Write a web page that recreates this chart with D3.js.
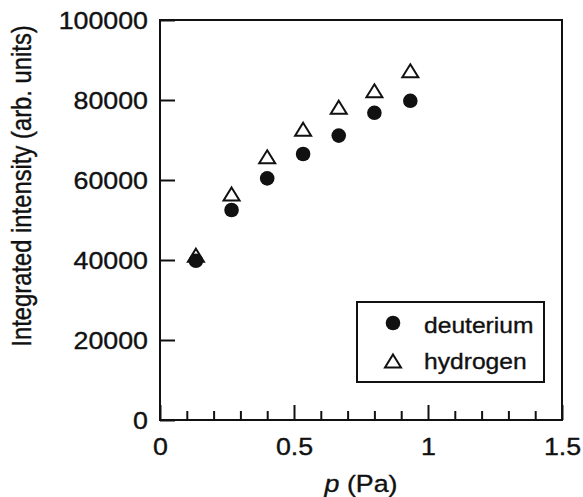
<!DOCTYPE html>
<html><head><meta charset="utf-8">
<script src="https://cdn.jsdelivr.net/npm/d3@7"></script>
<style>body{margin:0;background:#fff}svg{display:block}text{font-family:"Liberation Sans",Arial,sans-serif;fill:#111;stroke:#111;stroke-width:0.35px}</style>
</head><body><svg id="c" width="583" height="497"></svg>
<script>
const pressure = [0.134, 0.267, 0.4, 0.534, 0.667, 0.8, 0.934];
const deuterium = [39800, 52500, 60400, 66500, 71100, 76800, 79800];
const hydrogen = [41200, 56500, 65800, 72700, 78200, 82300, 87300];
const xTicks = [0, 0.5, 1, 1.5];
const xTickLabels = ["0", "0.5", "1", "1.5"];
const xMinorTicks = [0.1,0.2,0.3,0.4,0.6,0.7,0.8,0.9,1.1,1.2,1.3,1.4];
const yTicks = [0, 20000, 40000, 60000, 80000, 100000];
const yTickLabels = ["0","20000","40000","60000","80000","100000"];
const seriesNames = ["deuterium", "hydrogen"];

const SX = 1.14;
const FS = 23.5;
const svg = d3.select("#c");
const L = 160, R = 562, T = 20, B = 420;
const x = d3.scaleLinear().domain([0, 1.5]).range([L, R]);
const y = d3.scaleLinear().domain([0, 100000]).range([B, T]);

// x axis major ticks (inward)
const gx = svg.append("g").attr("transform", `translate(0,${B})`)
  .call(d3.axisBottom(x).tickValues(xTicks).tickSizeInner(-15).tickSizeOuter(0).tickFormat((d,i)=>xTickLabels[i]));
gx.select(".domain").remove();
gx.selectAll("line").attr("stroke","#111").attr("stroke-width",2);
gx.selectAll("text").attr("y", 35).attr("dy", 0).attr("font-size", FS).attr("fill","#111")
  .attr("transform", `scale(${SX},1)`);
// minor ticks
const gxm = svg.append("g").attr("transform", `translate(0,${B})`)
  .call(d3.axisBottom(x).tickValues(xMinorTicks).tickSizeInner(-9).tickSizeOuter(0).tickFormat(""));
gxm.select(".domain").remove();
gxm.selectAll("line").attr("stroke","#111").attr("stroke-width",2);

// y axis
const gy = svg.append("g").attr("transform", `translate(${L},0)`)
  .call(d3.axisLeft(y).tickValues(yTicks).tickSizeInner(-15).tickSizeOuter(0).tickFormat((d,i)=>yTickLabels[i]));
gy.select(".domain").remove();
gy.selectAll("line").attr("stroke","#111").attr("stroke-width",2);
gy.selectAll("text").attr("x", -12/SX).attr("dy", "0.36em").attr("font-size", FS).attr("fill","#111")
  .attr("transform", `scale(${SX},1)`);

// frame
svg.append("rect").attr("x", L).attr("y", T).attr("width", R-L).attr("height", B-T)
  .attr("fill","none").attr("stroke","#111").attr("stroke-width",2);

// axis titles
svg.append("text").attr("transform", `translate(31,186) scale(${SX},1) rotate(-90)`)
  .attr("text-anchor","middle").attr("font-size", 23.8).text("Integrated intensity (arb. units)");
const xt = svg.append("text").attr("transform", `translate(361,491.5) scale(${SX},1)`)
  .attr("text-anchor","middle").attr("font-size", FS);
xt.append("tspan").attr("font-style","italic").text("p");
xt.append("tspan").text(" (Pa)");

// triangle symbol
const triW = 16, triH = 13;
const triPath = (cx, cy) => `M${cx},${cy-triH/2}L${cx+triW/2},${cy+triH/2}L${cx-triW/2},${cy+triH/2}Z`;

const dData = pressure.map((p,i)=>({p, v: deuterium[i]}));
const hData = pressure.map((p,i)=>({p, v: hydrogen[i]}));

svg.append("g").selectAll("circle").data(dData).join("circle")
  .attr("cx", d=>x(d.p)).attr("cy", d=>y(d.v)).attr("r", 7.3).attr("fill","#111");
svg.append("g").selectAll("path").data(hData).join("path")
  .attr("d", d=>triPath(x(d.p), y(d.v)))
  .attr("fill","none").attr("stroke","#111").attr("stroke-width",2).attr("stroke-linejoin","miter");

// legend
const lg = svg.append("g");
lg.append("rect").attr("x",357).attr("y",302).attr("width",187).attr("height",80)
  .attr("fill","#fff").attr("stroke","#111").attr("stroke-width",2);
lg.append("circle").attr("cx",393).attr("cy",323).attr("r",7.3).attr("fill","#111");
lg.append("path").attr("d", triPath(393, 361)).attr("fill","none").attr("stroke","#111").attr("stroke-width",2);
lg.append("text").attr("transform", `translate(424,333) scale(1.13,1)`).attr("font-size",21.8).text(seriesNames[0]);
lg.append("text").attr("transform", `translate(424,369) scale(1.13,1)`).attr("font-size",21.8).text(seriesNames[1]);
</script></body></html>
